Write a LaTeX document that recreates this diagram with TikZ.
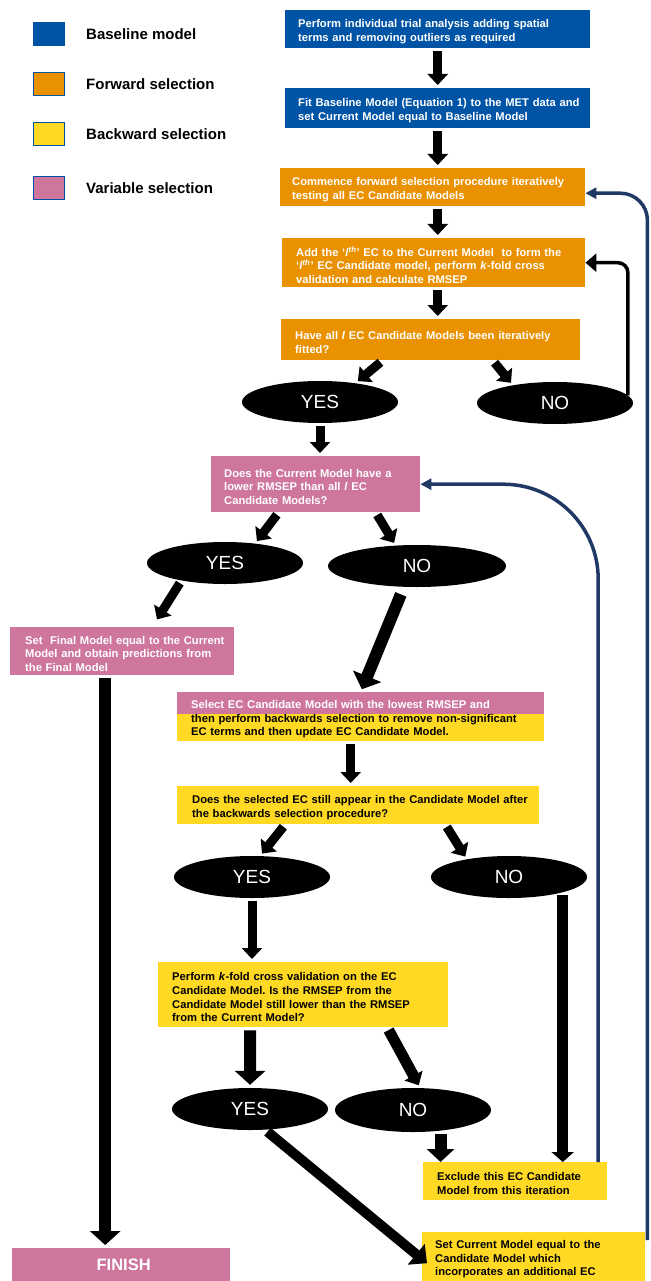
\documentclass[tikz,border=0pt]{standalone}
\usepackage{fontspec}
\setmainfont{Liberation Sans}
\usepackage{xcolor}
\usetikzlibrary{positioning, shapes.geometric, calc, arrows.meta}
\frenchspacing
\definecolor{fcBlue}{RGB}{0, 84, 166}
\definecolor{fcOrange}{RGB}{234, 145, 0}
\definecolor{fcYellow}{RGB}{255, 217, 36}
\definecolor{fcPink}{RGB}{206, 118, 158}
\definecolor{fcNavy}{RGB}{31, 56, 100}
\tikzset{
    base/.style={
        font=\fontsize{11.2}{13.6}\selectfont\bfseries,
        align=left
    },
    lmargin/.style={
        execute at begin node={\leftskip=#1}
    },
    procbox/.style={
        base,
        rectangle,
        anchor=north west,
        inner xsep=0pt,
        inner ysep=0pt,
        lmargin=13pt,
        execute at end node={\par\kern-5pt}
    },
    bluebox/.style={procbox, fill=fcBlue, text=white},
    orangebox/.style={procbox, fill=fcOrange, text=white},
    pinkbox/.style={procbox, fill=fcPink, text=white},
    yellowbox/.style={procbox, fill=fcYellow, text=black},
    answer/.style={
        ellipse,
        fill=black,
        text=white,
        inner sep=0pt,
        minimum width=156pt,
        minimum height=42pt,
        font=\fontsize{19}{19}\selectfont
    },
    keybox/.style={
        rectangle,
        draw=fcBlue,
        line width=1.3pt,
        minimum width=31pt,
        minimum height=23pt,
        inner sep=0pt
    },
    keytext/.style={
        anchor=west,
        inner sep=0pt,
        font=\fontsize{15}{18}\selectfont\bfseries
    },
    flow/.style={
        line width=9pt,
        -{Triangle[length=11pt, width=20pt]},
        shorten <=3pt,
        shorten >=3pt
    },
    bigflow/.style={
        line width=12pt,
        -{Triangle[length=14pt, width=30pt]},
        shorten <=3pt,
        shorten >=3pt
    },
    loopback/.style={
        line width=3.5pt,
        -{Triangle[length=11pt, width=18pt]},
        rounded corners=10pt
    },
    feedback/.style={
        line width=3.5pt,
        color=fcNavy,
        -{Triangle[length=11pt, width=11pt]}
    }
}

\begin{document}
\begin{tikzpicture}[x=1pt, y=-1pt]
  \useasboundingbox (0,0) rectangle (650,1281);

  % Legend
  \node[keybox, fill=fcBlue] (kbase) at (49,34) {};
  \node[keytext] (tbase) at (86,34) {Baseline model};
  \node[keybox, fill=fcOrange] (kfwd) at (49,84) {};
  \node[keytext] (tfwd) at (86,84) {Forward selection};
  \node[keybox, fill=fcYellow] (kbwd) at (49,134) {};
  \node[keytext] (tbwd) at (86,134) {Backward selection};
  \node[keybox, fill=fcPink] (kvar) at (49,188) {};
  \node[keytext] (tvar) at (86,188) {Variable selection};

  % Baseline model
  \node[bluebox, text width=305pt, minimum height=38pt] (trial) at (285,10) {Perform individual trial analysis adding spatial\\terms and removing outliers as required};
  \node[bluebox, text width=305pt, minimum height=40pt] (fitbase) at (285,88) {Fit Baseline Model (Equation 1) to the MET data and\\set Current Model equal to Baseline Model};

  % Forward selection
  \node[orangebox, text width=305pt, lmargin=12pt, minimum height=38pt] (forward) at (280,168) {Commence forward selection procedure iteratively\\testing all EC Candidate Models};
  \node[orangebox, text width=303pt, lmargin=14pt, minimum height=49pt] (addec) at (282,238) {Add the ‘\textit{l}\textsuperscript{\textit{th}}’ EC to the Current Model\ \ to form the\\‘\textit{l}\textsuperscript{\textit{th}}’ EC Candidate model, perform \textit{k}-fold cross\\validation and calculate RMSEP};
  \node[orangebox, text width=299pt, lmargin=14pt, minimum height=41pt] (allfitted) at (281,319) {Have all \textit{l} EC Candidate Models been iteratively\\fitted?};
  \node[answer] (yes1) at (320,402) {YES};
  \node[answer] (no1) at (555,403) {NO};

  % Variable selection
  \node[pinkbox, text width=209pt, minimum height=56pt] (lower) at (211,456) {Does the Current Model have a\\lower RMSEP than all \textit{l} EC\\Candidate Models?};
  \node[answer] (yes2) at (225,563) {YES};
  \node[answer, minimum width=178pt] (no2) at (417,566) {NO};
  \node[pinkbox, text width=224pt, lmargin=15pt, minimum height=48pt] (final) at (10,627) {Set\ \ Final Model equal to the Current\\Model and obtain predictions from\\the Final Model};

  % Backward selection
  \node[yellowbox, text width=367pt, lmargin=14pt, minimum height=49pt,
        path picture={\fill[fcPink] (path picture bounding box.north west) rectangle ([yshift=-22pt]path picture bounding box.north east);}]
        (select) at (177,692) {\textcolor{white}{Select EC Candidate Model with the lowest RMSEP and}\\then perform backwards selection to remove non-significant\\EC terms and then update EC Candidate Model.};
  \node[yellowbox, text width=362pt, lmargin=15pt, minimum height=38pt] (stillin) at (177,786) {Does the selected EC still appear in the Candidate Model after\\the backwards selection procedure?};
  \node[answer] (yes3) at (252,877) {YES};
  \node[answer] (no3) at (509,877) {NO};
  \node[yellowbox, text width=290pt, lmargin=14pt, minimum height=65pt] (kfold) at (158,962) {Perform \textit{k}-fold cross validation on the EC\\Candidate Model. Is the RMSEP from the\\Candidate Model still lower than the RMSEP\\from the Current Model?};
  \node[answer] (yes4) at (250,1109) {YES};
  \node[answer, minimum height=44pt] (no4) at (413,1110) {NO};
  \node[yellowbox, text width=184pt, lmargin=14pt, minimum height=38pt] (exclude) at (423,1162) {Exclude this EC Candidate\\Model from this iteration};
  \node[yellowbox, text width=223pt, minimum height=49pt] (setcur) at (422,1232) {Set Current Model equal to the\\Candidate Model which\\incorporates an additional EC};
  \node[pinkbox, align=center, minimum width=218pt, minimum height=33pt, font=\fontsize{16.5}{18}\selectfont\bfseries, execute at end node={}] (finish) at (12,1248) {FINISH};

  % Connections
  \draw[flow] (trial) -- (fitbase);
  \draw[flow] (fitbase.south) -- (fitbase.south |- forward.north);
  \draw[flow] (forward.south -| fitbase.south) -- (addec.north -| fitbase.south);
  \draw[flow] (addec.south -| fitbase.south) -- (allfitted.north -| fitbase.south);
  \draw[flow] ([xshift=-48pt]allfitted.south) -- (yes1.28);
  \draw[flow] ([xshift=62pt]allfitted.south) -- (no1.157);
  \draw[loopback] (no1.6) |- (addec.east);
  \draw[flow] (yes1.south) -- (yes1.south |- lower.north);

  \draw[flow] ([xshift=-37pt]lower.south) -- (yes2.33);
  \draw[flow] ([xshift=60pt]lower.south) -- (no2.136);
  \draw[flow, shorten >=9pt] (yes2.202) -- ([xshift=30pt]final.north);
  \draw[bigflow, shorten <=8pt] (no2.238) -- (select.north);
  \draw[bigflow] ([xshift=-17pt]final.south) -- ([xshift=-16pt]finish.north);

  \draw[flow] ([xshift=-10pt]select.south) -- ([xshift=-7.5pt]stillin.north);
  \draw[flow] ([xshift=-73pt]stillin.south) -- (yes3.69);
  \draw[flow] ([xshift=87pt]stillin.south) -- (no3.157);
  \draw[flow] (yes3.south) -- (yes3.south |- kfold.north);
  \draw[flow, line width=11pt, -{Triangle[length=10pt, width=22pt]}, shorten >=0pt] (no3.344) -- (no3.344 |- exclude.north);
  \draw[bigflow] ([xshift=-53pt]kfold.south) -- (yes4.north);
  \draw[flow, line width=11pt] ([xshift=84pt]kfold.south) -- (no4.72);
  \draw[bigflow, -{Triangle[length=13pt, width=27pt]}, shorten >=0pt] (no4.323) -- (no4.323 |- exclude.north);
  \draw[flow, line width=10pt, -{Triangle[length=14pt, width=26pt]}, shorten >=0pt] (yes4.306) -- ($(setcur.west)+(5,6.5)$);

  % Feedback loops
  \draw[feedback, rounded corners=95pt] ([xshift=83pt]exclude.north) |- (lower.east);
  \draw[feedback, rounded corners=27pt] ([xshift=2pt, yshift=-8pt]setcur.north east) |- ([yshift=-6pt]forward.east);
\end{tikzpicture}
\end{document}
